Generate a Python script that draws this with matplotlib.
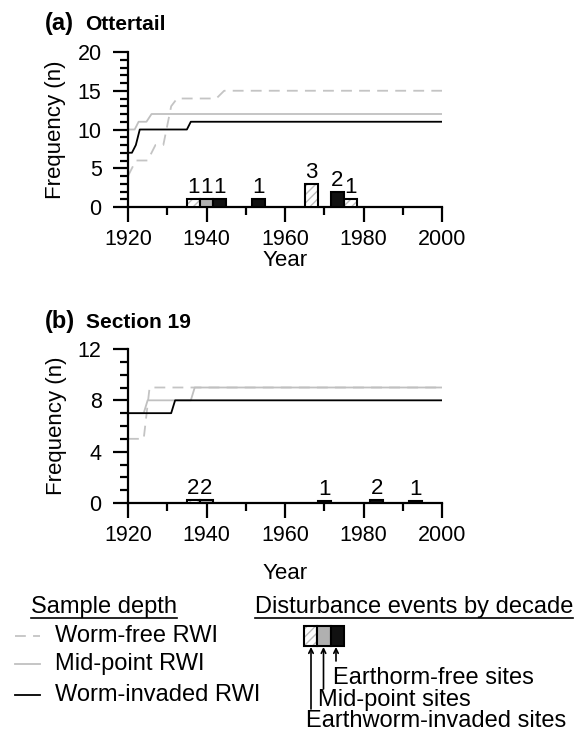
import numpy as np
import matplotlib
matplotlib.use('Agg')
from matplotlib import pyplot as plt
from matplotlib.patches import Rectangle

plt.rcParams['font.family'] = ['Liberation Sans', 'DejaVu Sans']
plt.rcParams['hatch.linewidth'] = 1.0

#Sample depth - (a) Ottertail
a_year_free = [1920, 1922, 1925, 1927, 1929, 1931, 1932.5, 1942.5, 1944.5, 2000]
a_n_free = [4, 6, 6, 8, 8, 13, 14, 14, 15, 15]
a_year_mid = [1920, 1921.7, 1922.7, 1924.7, 1926, 2000]
a_n_mid = [10, 10, 11, 11, 12, 12]
a_year_inv = [1920, 1921, 1922, 1923, 1935, 1936, 2000]
a_n_inv = [7, 7, 8, 10, 10, 11, 11]

#Sample depth - (b) Section 19
b_year_free = [1920, 1924, 1925.5, 2000]
b_n_free = [5, 5, 9, 9]
b_year_mid = [1920, 1924, 1925, 1936, 1937, 2000]
b_n_mid = [7, 7, 8, 8, 9, 9]
b_year_inv = [1920, 1931, 1932, 2000]
b_n_inv = [7, 7, 8, 8]

#Disturbance events by decade
decades = [1940, 1950, 1960, 1970, 1980, 1990]
a_dist_free = [1, 0, 0, 3, 1, 0]
a_dist_mid = [1, 0, 0, 0, 0, 0]
a_dist_inv = [1, 1, 0, 2, 0, 0]
b_dist_free = [2, 0, 0, 0, 0, 0]
b_dist_mid = [2, 0, 0, 1, 0, 0]
b_dist_inv = [0, 0, 0, 0, 2, 1]

FREE_C = '#c4c4c4'
MID_C = '#c0c0c0'
BAR_MID = '#b0b0b0'
W = 10 / 3
FS = 16


def draw_bars(ax, free, mid, inv, scale):
    x = np.array(decades, dtype=float)
    for xs, counts, kind in [(x - W, free, 'free'), (x, mid, 'mid'), (x + W, inv, 'inv')]:
        counts = np.array(counts)
        keep = counts > 0
        h = counts[keep] * scale
        xx = xs[keep]
        if kind == 'free':
            ax.bar(xx, h, width=W, color='white', edgecolor='#bdbdbd', hatch='////',
                   linewidth=0, zorder=3)
            ax.bar(xx, h, width=W, fill=False, edgecolor='black', linewidth=1.5, zorder=4)
        elif kind == 'mid':
            ax.bar(xx, h, width=W, color=BAR_MID, edgecolor='black', linewidth=1.5, zorder=4)
        else:
            ax.bar(xx, h, width=W, color='#111111', edgecolor='black', linewidth=1.5, zorder=4)
        for xi, hi, c in zip(xx, h, counts[keep]):
            ax.text(xi, hi + 0.1, str(c), ha='center', va='bottom', fontsize=FS)


def style_axes(ax, ymax, ystep, xlabelpad):
    ax.set_xlim(1920, 2000)
    ax.set_ylim(0, ymax)
    ax.spines['top'].set_visible(False)
    ax.spines['right'].set_visible(False)
    ax.spines['left'].set_linewidth(1.6)
    ax.spines['bottom'].set_linewidth(1.6)
    ax.set_xticks([1920, 1940, 1960, 1980, 2000])
    ax.set_xticks([1930, 1950, 1970, 1990], minor=True)
    ax.set_yticks(np.arange(0, ymax + 1, ystep))
    ax.set_yticks(np.arange(0, ymax + 1, 1), minor=True)
    ax.tick_params(which='major', length=11, width=1.6, labelsize=15.5)
    ax.tick_params(which='minor', length=5.5, width=1.6)
    ax.tick_params(axis='y', pad=8)
    ax.tick_params(axis='x', pad=5)
    ax.set_xlabel('Year', fontsize=FS, labelpad=xlabelpad)
    ax.set_ylabel('Frequency (n)', fontsize=FS, labelpad=8)


fig = plt.figure(figsize=(5.78, 7.31), dpi=100)

ax1 = fig.add_axes([128 / 578, 1 - 207 / 731, 314 / 578, 155 / 731])
ax1.plot(a_year_free, a_n_free, color=FREE_C, lw=1.3, dashes=(6, 4))
ax1.plot(a_year_mid, a_n_mid, color=MID_C, lw=1.3)
ax1.plot(a_year_inv, a_n_inv, color='black', lw=1.3)
draw_bars(ax1, a_dist_free, a_dist_mid, a_dist_inv, 1.0)
style_axes(ax1, 20, 5, 0)

ax2 = fig.add_axes([128 / 578, 1 - 503 / 731, 314 / 578, 154 / 731])
ax2.plot(b_year_free, b_n_free, color=FREE_C, lw=1.3, dashes=(6, 4))
ax2.plot(b_year_mid, b_n_mid, color=MID_C, lw=1.3)
ax2.plot(b_year_inv, b_n_inv, color='black', lw=1.3)
draw_bars(ax2, b_dist_free, b_dist_mid, b_dist_inv, 0.12)
style_axes(ax2, 12, 4, 12)

#Panel titles
fig.text(45 / 578, 1 - 30 / 731, '(a)', fontsize=17, fontweight='bold', va='baseline')
fig.text(85 / 578, 1 - 30 / 731, 'Ottertail', fontsize=15, fontweight='bold', va='baseline')
fig.text(45 / 578, 1 - 328 / 731, '(b)', fontsize=17, fontweight='bold', va='baseline')
fig.text(86 / 578, 1 - 328 / 731, 'Section 19', fontsize=15, fontweight='bold', va='baseline')

#Legend drawn in pixel coordinates
ov = fig.add_axes([0, 0, 1, 1])
ov.set_xlim(0, 578)
ov.set_ylim(731, 0)
ov.axis('off')

LFS = 17
t1 = ov.text(31, 607, 'Sample depth', fontsize=LFS, va='center')
t2 = ov.text(255, 607, 'Disturbance events by decade', fontsize=LFS, va='center')
fig.canvas.draw()
r = fig.canvas.get_renderer()
inv_tr = ov.transData.inverted()
for t in (t1, t2):
    bb = t.get_window_extent(r)
    (x0, _), (x1, _) = inv_tr.transform([[bb.x0, bb.y0], [bb.x1, bb.y0]])
    ov.plot([x0, x1], [618, 618], color='black', lw=1.2)

rows = [('Worm-free RWI', FREE_C, (6, 4), 636),
        ('Mid-point RWI', MID_C, None, 664),
        ('Worm-invaded RWI', 'black', None, 695)]
for label, c, ds, y in rows:
    if ds:
        ov.plot([15, 40], [y, y], color=c, lw=1.3, dashes=ds)
    else:
        ov.plot([15, 40], [y, y], color=c, lw=1.3)
    ov.text(55, y, label, fontsize=LFS, va='center')

bx, by, bw, bh = 304, 626, 13.3, 20
ov.add_patch(Rectangle((bx, by), bw, bh, facecolor='white', edgecolor='#bdbdbd', hatch='////', lw=0))
ov.add_patch(Rectangle((bx, by), bw, bh, fill=False, edgecolor='black', lw=1.5))
ov.add_patch(Rectangle((bx + bw, by), bw, bh, facecolor=BAR_MID, edgecolor='black', lw=1.5))
ov.add_patch(Rectangle((bx + 2 * bw, by), bw, bh, facecolor='#111111', edgecolor='black', lw=1.5))

for ax_x, y_end in [(311, 709), (323.5, 689), (336, 661)]:
    ov.annotate('', xy=(ax_x, by + bh + 1), xytext=(ax_x, y_end),
                arrowprops=dict(arrowstyle='->', lw=1.2, shrinkA=0, shrinkB=0, mutation_scale=8))

ov.text(333, 678, 'Earthorm-free sites', fontsize=LFS, va='center')
ov.text(318, 700, 'Mid-point sites', fontsize=LFS, va='center')
ov.text(306, 721, 'Earthworm-invaded sites', fontsize=LFS, va='center')

plt.savefig('out.png', dpi=100)
